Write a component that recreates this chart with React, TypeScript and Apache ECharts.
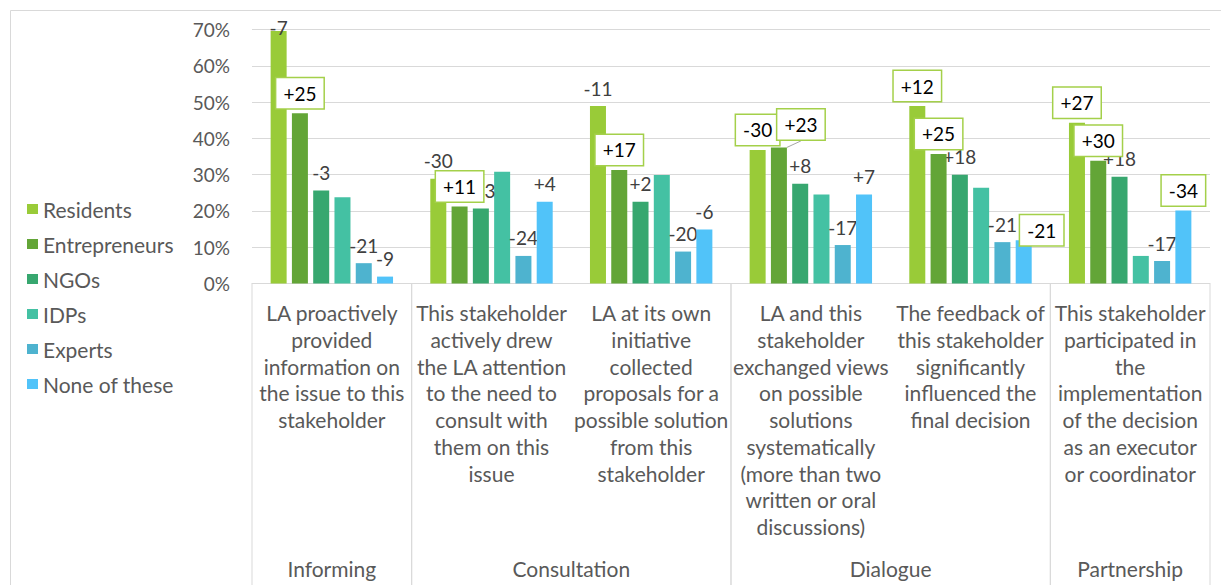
import React, { useEffect, useRef } from "react";
import * as echarts from "echarts";

// ---------- data ----------
const categories = [
  "LA proactively\nprovided\ninformation on\nthe issue to this\nstakeholder",
  "This stakeholder\nactively drew\nthe LA attention\nto the need to\nconsult with\nthem on this\nissue",
  "LA at its own\ninitiative\ncollected\nproposals for a\npossible solution\nfrom this\nstakeholder",
  "LA and this\nstakeholder\nexchanged views\non possible\nsolutions\nsystematically\n(more than two\nwritten or oral\ndiscussions)",
  "The feedback of\nthis stakeholder\nsignificantly\ninfluenced the\nfinal decision",
  "This stakeholder\nparticipated in\nthe\nimplementation\nof the decision\nas an executor\nor coordinator",
];

const groupNames = ["Informing", "Consultation", "Dialogue", "Partnership"];
const groupStart = [0, 1, 3, 5];
const groupEnd = [0, 2, 4, 5];

const seriesNames = ["Residents", "Entrepreneurs", "NGOs", "IDPs", "Experts", "None of these"];

// share of respondents, %
const residents = [69.6, 28.9, 48.9, 36.8, 48.9, 44.3];
const entrepreneurs = [46.9, 21.2, 31.3, 37.5, 35.7, 33.8];
const ngos = [25.6, 20.7, 22.5, 27.5, 30.0, 29.4];
const idps = [23.8, 30.8, 29.9, 24.5, 26.4, 7.6];
const experts = [5.6, 7.6, 8.8, 10.6, 11.4, 6.2];
const noneOfThese = [1.9, 22.5, 14.9, 24.5, 11.9, 20.1];

// change labels
const residentsChange = ["-7", "-30", "-11", "-30", "+12", "+27"];
const entrepreneursChange = ["+25", "+11", "+17", "+23", "+25", "+30"];
const ngosChange = ["-3", "-13", "+2", "+8", "+18", "+18"];
const idpsChange = [null, null, null, null, null, null];
const expertsChange = ["-21", "-24", "-20", "-17", "-21", "-17"];
const noneChange = ["-9", "+4", "-6", "+7", "-21", "-34"];

// which change labels are highlighted (boxed)
const residentsBoxed = [false, false, false, true, true, true];
const entrepreneursBoxed = [true, true, true, true, true, true];
const noneBoxed = [false, false, false, false, true, true];

const yMin = 0;
const yMax = 70;
const yInterval = 10;

// ---------- styling ----------
const FONT = "Lato, 'Open Sans', sans-serif";
const WORD_SIZE = 21;
const NUM_SIZE = 19;
const colors = ["#99CB38", "#63A537", "#37A76F", "#44C1A3", "#4EB3CF", "#51C3F9"];
const GRID_GRAY = "#d9d9d9";
const TEXT_GRAY = "#595959";

// label nudges: [seriesIndex, dataIndex, dx, dy, leaderLine]
const labelNudges: [number, number, number, number, boolean][] = [
  [0, 0, 0, 15, false],
  [1, 3, 22, -3, true],
  [5, 4, 18, 10, false],
];

const plainLabel = {
  show: true,
  position: "top",
  distance: 8,
  color: "#404040",
  fontSize: NUM_SIZE,
  lineHeight: 20,
  fontFamily: FONT,
};
const boxedLabel = {
  show: true,
  position: "top",
  distance: 5,
  color: "#000",
  fontSize: NUM_SIZE,
  lineHeight: 20,
  fontFamily: FONT,
  backgroundColor: "#fff",
  borderColor: "#A4D04A",
  borderWidth: 1.5,
  padding: [5, 7, 5, 7],
};

function buildData(values: number[], changes: (string | null)[], boxed?: boolean[], sIdx?: number) {
  return values.map((v, i) => {
    const t = changes[i];
    if (!t) return { value: v, label: { show: false } };
    const isBox = boxed ? boxed[i] : false;
    const item: any = {
      value: v,
      label: { ...(isBox ? boxedLabel : plainLabel), formatter: t },
    };
    const nudge = labelNudges.find((n) => n[0] === sIdx && n[1] === i);
    if (nudge && nudge[4]) {
      item.labelLine = { show: true, lineStyle: { color: "#a6a6a6", width: 1 } };
    }
    return item;
  });
}

const seriesValues = [residents, entrepreneurs, ngos, idps, experts, noneOfThese];
const seriesChanges = [residentsChange, entrepreneursChange, ngosChange, idpsChange, expertsChange, noneChange];
const seriesBoxed: (boolean[] | undefined)[] = [residentsBoxed, entrepreneursBoxed, undefined, undefined, undefined, noneBoxed];
const seriesZ = [4, 4, 2, 2, 2, 3];

function buildOption(): any {
  const bars = seriesNames.map((name, s) => ({
    name,
    type: "bar",
    barWidth: 16,
    barGap: "33%",
    z: seriesZ[s],
    itemStyle: { color: colors[s] },
    data: buildData(seriesValues[s], seriesChanges[s], seriesBoxed[s], s),
    labelLayout: (p: any) => {
      const n = labelNudges.find((k) => k[0] === s && k[1] === p.dataIndex);
      return n ? { dx: n[2], dy: n[3] } : {};
    },
  }));

  const groupSeries = {
    name: "groups",
    type: "custom",
    silent: true,
    clip: false,
    z: 1,
    data: groupNames.map((g, i) => ({ name: g, value: [groupStart[i], groupEnd[i]] })),
    renderItem: (params: any, api: any) => {
      const i = params.dataIndex;
      const a = api.coord([api.value(0), 0]);
      const b = api.coord([api.value(1), 0]);
      const bw = api.size([1, 0])[0];
      const xl = a[0] - bw / 2;
      const xr = b[0] + bw / 2;
      const y0 = a[1];
      return {
        type: "group",
        children: [
          { type: "line", shape: { x1: xl, y1: y0, x2: xl, y2: y0 + 310 }, style: { stroke: GRID_GRAY, lineWidth: 1 } },
          { type: "line", shape: { x1: xr, y1: y0, x2: xr, y2: y0 + 310 }, style: { stroke: GRID_GRAY, lineWidth: 1 } },
          {
            type: "text",
            style: {
              text: groupNames[i],
              x: (xl + xr) / 2,
              y: y0 + 284.5,
              align: "center",
              verticalAlign: "middle",
              fill: TEXT_GRAY,
              fontSize: WORD_SIZE,
              fontFamily: FONT,
            },
          },
        ],
      };
    },
  };

  return {
    animation: false,
    backgroundColor: "#fff",
    textStyle: { fontFamily: FONT },
    graphic: [
      {
        type: "rect",
        left: 8,
        top: 8,
        shape: { width: 1300, height: 700 },
        style: { fill: "none", stroke: GRID_GRAY, lineWidth: 1 },
        silent: true,
      },
    ],
    legend: {
      orient: "vertical",
      left: 27,
      top: 198,
      padding: 0,
      icon: "rect",
      itemWidth: 11,
      itemHeight: 10,
      itemGap: 13,
      data: seriesNames,
      textStyle: { fontSize: WORD_SIZE, color: TEXT_GRAY, lineHeight: 22, fontFamily: FONT },
    },
    grid: { left: 252, right: 11, top: 29.5, bottom: 301.5, containLabel: false },
    xAxis: {
      type: "category",
      data: categories,
      axisLine: { show: true, lineStyle: { color: GRID_GRAY, width: 1 } },
      axisTick: { show: false },
      axisLabel: {
        interval: 0,
        margin: 16,
        fontSize: WORD_SIZE,
        lineHeight: 26.7,
        color: TEXT_GRAY,
        fontFamily: FONT,
        align: "center",
      },
    },
    yAxis: {
      type: "value",
      min: yMin,
      max: yMax,
      interval: yInterval,
      axisLine: { show: false },
      axisTick: { show: false },
      axisLabel: { formatter: "{value}%", fontSize: NUM_SIZE, color: TEXT_GRAY, margin: 22, fontFamily: FONT },
      splitLine: { lineStyle: { color: GRID_GRAY, width: 1 } },
    },
    series: [...bars, groupSeries],
  };
}

export default function App() {
  const ref = useRef<HTMLDivElement>(null);
  useEffect(() => {
    if (!ref.current) return;
    const chart = echarts.init(ref.current, null, { renderer: "svg" });
    chart.setOption(buildOption());
    return () => chart.dispose();
  }, []);
  return (
    <div
      ref={ref}
      style={{ position: "fixed", left: 0, top: 0, width: 1221, height: 585, background: "#fff" }}
    />
  );
}
